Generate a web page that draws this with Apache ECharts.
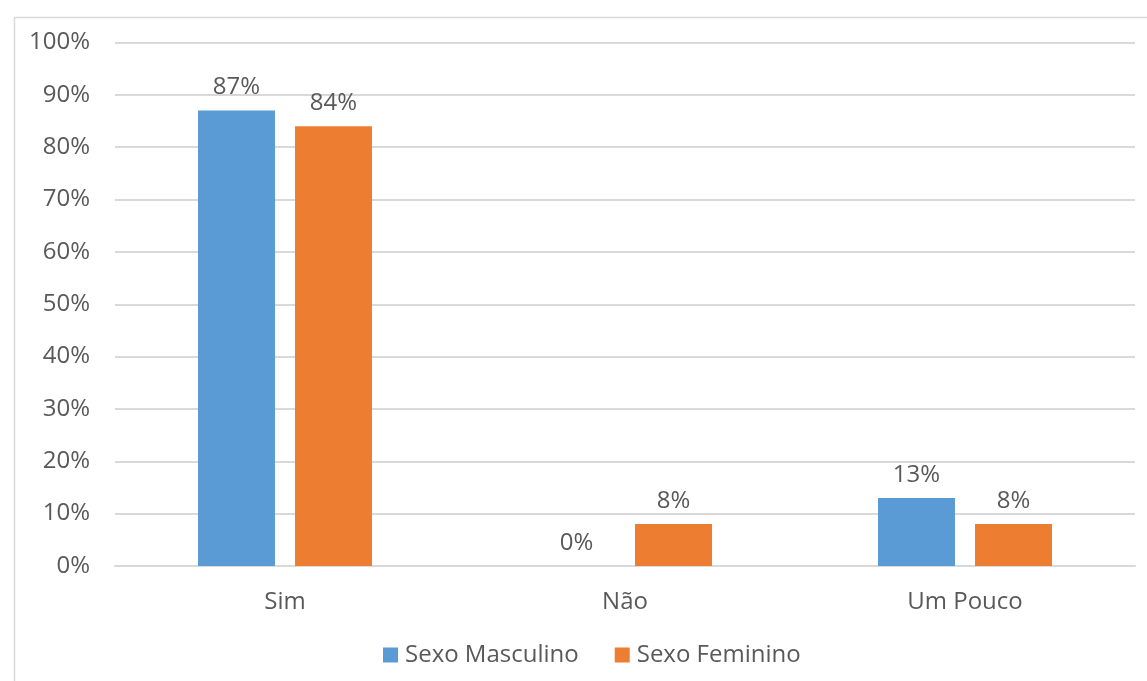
<!DOCTYPE html>
<html>
<head>
<meta charset="utf-8">
<script src="https://cdn.jsdelivr.net/npm/echarts@6/dist/echarts.min.js"></script>
<style>
  html, body { margin: 0; padding: 0; background: #ffffff; }
  #chart { width: 1147px; height: 681px; }
</style>
</head>
<body>
<div id="chart"></div>
<script>
// Respostas por sexo (percentagens)
const categories = ['Sim', 'Não', 'Um Pouco'];
const masculino = [87, 0, 13];
const feminino = [84, 8, 8];
const seriesNames = ['Sexo Masculino', 'Sexo Feminino'];
const yTicks = [0, 10, 20, 30, 40, 50, 60, 70, 80, 90, 100];

const FONT = '"Open Sans", sans-serif';
const TEXT = '#595959';
const FS = 24;

const chart = echarts.init(document.getElementById('chart'), null, { renderer: 'canvas' });

const labelCfg = {
  show: true,
  position: 'top',
  distance: 11,
  color: TEXT,
  fontFamily: FONT,
  fontSize: FS,
  formatter: p => p.value + '%'
};

chart.setOption({
  animation: false,
  backgroundColor: '#ffffff',
  graphic: [{
    type: 'rect',
    left: 12, top: 15,
    shape: { width: 1160, height: 700 },
    style: { fill: 'none', stroke: '#D9D9D9', lineWidth: 1.5 },
    silent: true
  }],
  grid: { left: 115, right: 12, top: 42.5, bottom: 115, containLabel: false },
  legend: {
    data: seriesNames,
    left: 378,
    top: 638,
    itemWidth: 15,
    itemHeight: 15,
    itemGap: 36,
    icon: 'rect',
    textStyle: { color: TEXT, fontFamily: FONT, fontSize: FS, padding: [0, 0, 0, 2] }
  },
  xAxis: {
    type: 'category',
    data: categories,
    axisLine: { lineStyle: { color: '#D9D9D9', width: 2 } },
    axisTick: { show: false },
    axisLabel: { color: TEXT, fontFamily: FONT, fontSize: FS, margin: 24 }
  },
  yAxis: {
    type: 'value',
    min: yTicks[0],
    max: yTicks[yTicks.length - 1],
    interval: yTicks[1] - yTicks[0],
    axisLine: { show: false },
    axisTick: { show: false },
    splitLine: { lineStyle: { color: '#D9D9D9', width: 2 } },
    axisLabel: { color: TEXT, fontFamily: FONT, fontSize: FS, margin: 25, formatter: v => v + '%' }
  },
  series: [
    {
      name: seriesNames[0],
      type: 'bar',
      data: masculino,
      barWidth: 77,
      barGap: '26%',
      itemStyle: { color: '#5B9BD5' },
      label: labelCfg
    },
    {
      name: seriesNames[1],
      type: 'bar',
      data: feminino,
      barWidth: 77,
      barGap: '26%',
      itemStyle: { color: '#ED7D31' },
      label: labelCfg
    }
  ]
});
</script>
</body>
</html>
